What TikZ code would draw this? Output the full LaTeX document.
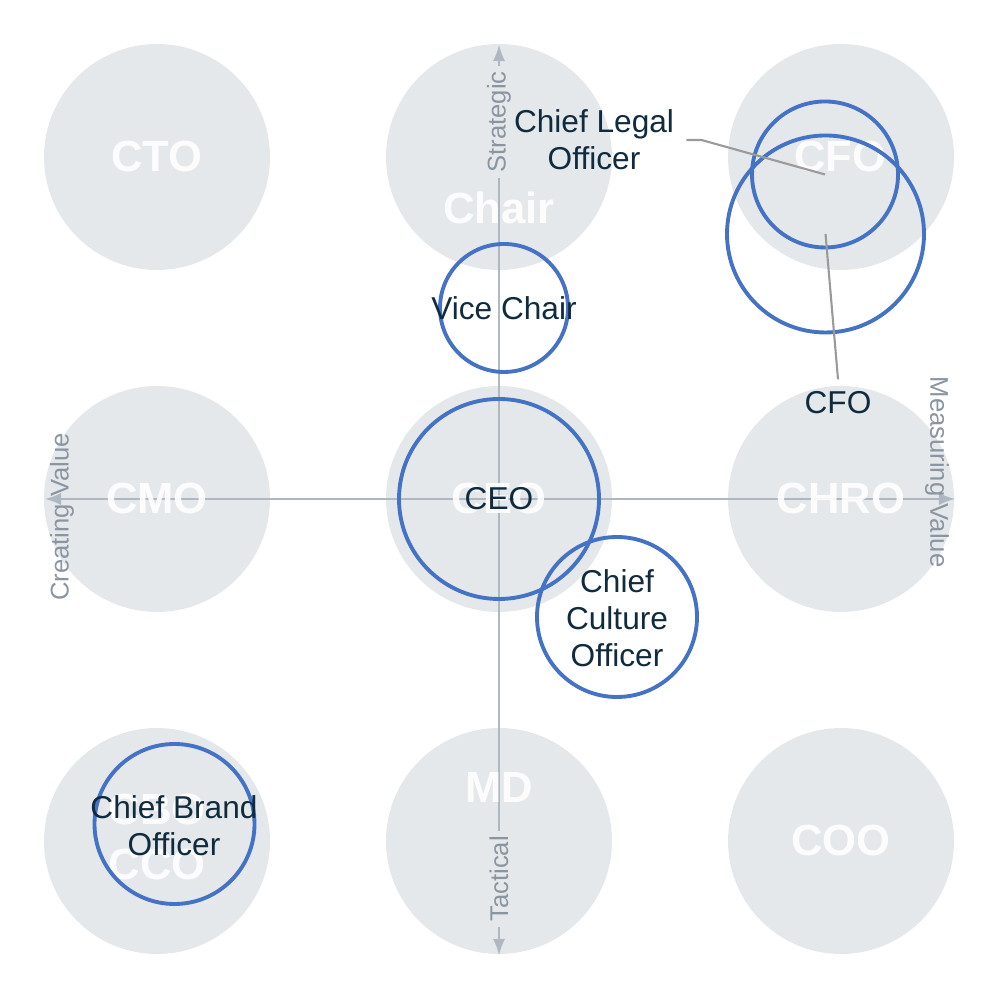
\documentclass[tikz,border=0pt]{standalone}
\usepackage{fontspec}
\setmainfont{Liberation Sans}
\usepackage{tikz}

\definecolor{disc}{HTML}{E5E8EB}
\definecolor{axisgray}{HTML}{AFB7C2}
\definecolor{axistext}{HTML}{8B95A0}
\definecolor{ringblue}{HTML}{4472C4}
\definecolor{roletext}{HTML}{0F2B3D}
\definecolor{callout}{HTML}{9A9A9A}

\begin{document}
\begin{tikzpicture}[
  greydisc/.style={circle,fill=disc,minimum size=2.26cm,inner sep=0pt},
  seat/.style={text=white,text opacity=0.9,font=\fontsize{12.4pt}{14pt}\selectfont\bfseries},
  axislabel/.style={text=axistext,font=\fontsize{7.3pt}{8pt}\selectfont,inner sep=1.5pt},
  ring/.style={circle,draw=ringblue,line width=1.1pt,inner sep=0pt},
  role/.style={text=roletext,align=center,font=\fontsize{9pt}{10.6pt}\selectfont},
  pointer/.style={draw=callout,line width=0.6pt}]
\useasboundingbox (0,0) rectangle (10,10);
\foreach \cx/\cy/\nm in {1.57/8.43/cto, 4.99/8.43/chair, 8.41/8.43/cfoseat,
                         1.57/5.01/cmo, 4.99/5.01/ceoseat, 8.41/5.01/chro,
                         1.57/1.59/cco, 4.99/1.59/md, 8.41/1.59/coo}
  \node[greydisc] (\nm) at (\cx,\cy) {};

\coordinate (west) at (0.45,5.01);
\coordinate (east) at (9.55,5.01);
\coordinate (north) at (4.99,9.55);
\coordinate (south) at (4.99,0.45);
\draw[<->,>=latex,axisgray,line width=0.6pt] (west) -- (east);
\draw[<->,>=latex,axisgray,line width=0.6pt] (south) -- (north);

\node[seat] (ctotxt) at (1.57,8.43) {CTO};
\node[seat] (chairtxt) at (4.99,7.92) {Chair};
\node[seat] (cfotxt) at (8.40,8.43) {CFO};
\node[seat] (cmotxt) at (1.57,5.01) {CMO};
\node[seat] (ceotxt) at (4.99,5.01) {CEO};
\node[seat] (chrotxt) at (8.41,5.01) {CHRO};
\node[seat] (cbotxt) at (1.57,1.90) {CBO};
\node[seat] (ccotxt) at (1.57,1.35) {CCO};
\node[seat] (mdtxt) at (4.99,2.12) {MD};
\node[seat] (cootxt) at (8.41,1.59) {COO};

\node[axislabel,fill=disc,rotate=90] (strategic) at (4.99,8.78) {Strategic};
\node[axislabel,fill=disc,rotate=90] (tactical) at (4.99,1.21) {Tactical};
\node[axislabel,rotate=90] (creating) at (0.62,4.83) {Creating Value};
\node[axislabel,rotate=-90] (measuring) at (9.37,5.28) {Measuring Value};

\node[ring,minimum size=1.28cm] (vice) at (5.04,6.92) {};
\node[ring,minimum size=2.0cm] (ceo) at (4.99,5.01) {};
\node[ring,minimum size=1.6cm] (culture) at (6.17,3.83) {};
\node[ring,minimum size=1.6cm] (brand) at (1.745,1.76) {};
\node[ring,minimum size=1.46cm] (legal) at (8.25,8.255) {};
\node[ring,minimum size=1.97cm] (cfo) at (8.255,7.66) {};

\node[role] (legaltxt) at (5.94,8.60) {Chief Legal\\Officer};
\node[role] (cfolabel) at (8.38,5.97) {CFO};
\draw[pointer] (legaltxt.east) -- ++(0.15,0) -- (legal.center);
\draw[pointer] (cfolabel.north) -- (cfo.center);

\node[role] (vicetxt) at (vice) {Vice Chair};
\node[role] (ceotext) at (ceo) {CEO};
\node[role] (culturetxt) at (6.17,3.82) {Chief\\Culture\\Officer};
\node[role] (brandtxt) at (1.74,1.74) {Chief Brand\\Officer};
\end{tikzpicture}
\end{document}
